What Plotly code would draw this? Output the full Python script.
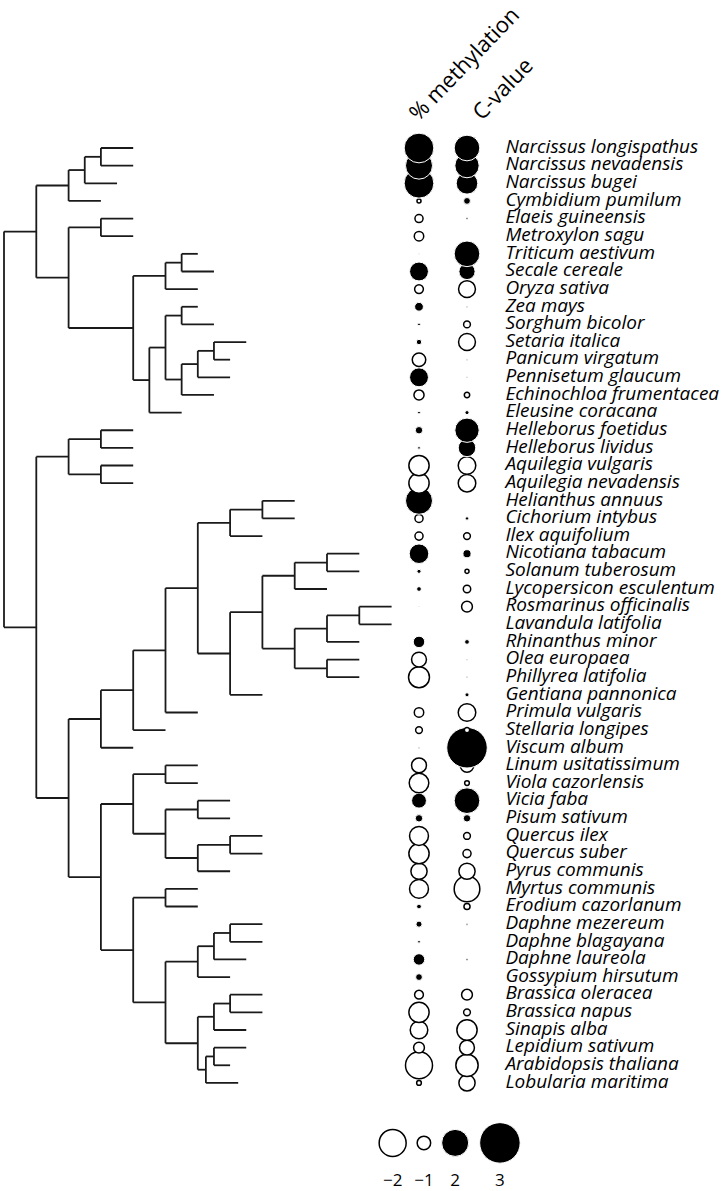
import plotly.graph_objects as go

species = [
    "Narcissus longispathus", "Narcissus nevadensis", "Narcissus bugei", "Cymbidium pumilum",
    "Elaeis guineensis", "Metroxylon sagu", "Triticum aestivum", "Secale cereale",
    "Oryza sativa", "Zea mays", "Sorghum bicolor", "Setaria italica", "Panicum virgatum",
    "Pennisetum glaucum", "Echinochloa frumentacea", "Eleusine coracana",
    "Helleborus foetidus", "Helleborus lividus", "Aquilegia vulgaris", "Aquilegia nevadensis",
    "Helianthus annuus", "Cichorium intybus", "Ilex aquifolium", "Nicotiana tabacum",
    "Solanum tuberosum", "Lycopersicon esculentum", "Rosmarinus officinalis",
    "Lavandula latifolia", "Rhinanthus minor", "Olea europaea", "Phillyrea latifolia",
    "Gentiana pannonica", "Primula vulgaris", "Stellaria longipes", "Viscum album",
    "Linum usitatissimum", "Viola cazorlensis", "Vicia faba", "Pisum sativum",
    "Quercus ilex", "Quercus suber", "Pyrus communis", "Myrtus communis",
    "Erodium cazorlanum", "Daphne mezereum", "Daphne blagayana", "Daphne laureola",
    "Gossypium hirsutum", "Brassica oleracea", "Brassica napus", "Sinapis alba",
    "Lepidium sativum", "Arabidopsis thaliana", "Lobularia maritima",
]

# standardised values (circle size = |value|, filled = positive, open = negative)
methylation = [
    2.2, 2.0, 2.2, -0.3, -0.6, -0.7, 0.05, 1.4, -0.65, 0.65, 0.2, 0.4, -1.0, 1.4, -0.75, 0.2,
    0.55, 0.2, -1.5, -1.5, 2.0, -0.6, -0.6, 1.45, 0.3, 0.35, 0.05, 0.0, 0.85, -1.1, -1.55,
    0.0, -0.7, -0.5, 0.1, -1.1, -1.45, 1.1, 0.55, -1.4, -1.5, -1.2, -1.4, 0.35, 0.45, 0.2,
    0.85, 0.5, -0.65, -1.5, -1.3, -0.8, -2.0, -0.35,
]
c_value = [
    1.9, 1.8, 1.6, 0.5, 0.15, 0.0, 1.9, 1.2, -1.25, 0.1, -0.5, -1.25, 0.1, 0.1, -0.4, 0.3,
    1.8, 1.3, -1.3, -1.3, 0.0, 0.25, -0.5, 0.6, -0.3, -0.55, -0.8, 0.0, 0.35, 0.1, 0.1,
    0.3, -1.3, -0.4, 3.0, -1.0, -0.35, 1.9, 0.55, -0.5, -0.6, -1.2, -1.9, -0.45, 0.15, 0.0,
    0.15, 0.0, -0.8, -0.5, -1.5, -1.1, -1.65, -1.2,
]

# tree: internal node = [depth, child, child, ...]; leaf = species index
tip_depth = [
    8, 8, 7, 6, 8, 8, 12, 13, 12, 12, 13, 15, 14, 14, 13, 11,
    8, 8, 8, 8,
    18, 18, 16, 22, 22, 20, 24, 24, 22, 22, 22, 16, 12, 10, 8,
    12, 12, 14, 14, 16, 16, 14, 12, 12, 16, 16, 15, 14, 16, 16, 15, 15, 14, 14.5,
]
tree = [0,
        [2,
         [4, [5, [6, 0, 1], 2], 3],
         [4, [6, 4, 5],
          [8, [10, [11, 6, 7], 8],
           [9, [10, [11, 9, 10], [11, [12, [13, 11, 12], 13], 14]], 15]]]],
        [2,
         [4, [6, 16, 17], [6, 18, 19]],
         [4,
          [6, [8, [10, [12, [14, [16, 20, 21], 22],
                        [14, [16, [18, [20, 23, 24], 25],
                              [18, [20, [22, 26, 27], 28], [20, 29, 30]]],
                         31]],
                   32],
               33],
           34],
          [6, [8, [10, 35, 36], [10, [12, 37, 38], [12, [14, 39, 40], 41]]],
           [8, [10, 42, 43],
            [10, [12, [13, [14, 44, 45], 46], 47],
             [12, [13, [14, 48, 49], 50], [12.5, [13, 51, 52], 53]]]]]]]]

columns = ["% methylation", "C-value"]
legend_values = [-2, -1, 2, 3]
legend_labels = ["\u22122", "\u22121", "2", "3"]

PX = 13.5          # circle diameter (px) per unit
COL_PX = 48        # px between the two circle columns
LABEL_FONT = "Open Sans"

# tree segments
tx, ty = [], []


def walk(node):
    if isinstance(node, int):
        return tip_depth[node], node
    depth = node[0]
    kids = [walk(c) for c in node[1:]]
    for kd, ky in kids:
        tx.extend([depth, kd, None])
        ty.extend([ky, ky, None])
    tx.extend([depth, depth, None])
    ty.extend([kids[0][1], kids[-1][1], None])
    return depth, (kids[0][1] + kids[-1][1]) / 2


walk(tree)

fig = go.Figure()
fig.add_trace(go.Scatter(x=tx, y=ty, mode="lines", line=dict(color="#1a1a1a", width=1.8),
                         hoverinfo="skip", showlegend=False))


def bubble_style(vals):
    return dict(
        size=[PX * abs(v) for v in vals],
        opacity=1,
        color=["black" if v > 0 else "white" for v in vals],
        line=dict(color=["white" if v > 0 else "black" for v in vals],
                  width=[1 if v > 0 else 1.5 for v in vals]),
    )


order = list(range(len(species)))[::-1]
for ci, vals in enumerate([methylation, c_value]):
    vv = [vals[i] for i in order]
    fig.add_trace(go.Scatter(
        x=[ci] * len(vv), y=order, mode="markers", xaxis="x2",
        marker=bubble_style(vv), showlegend=False,
        text=[species[i] for i in order], hovertemplate="%{text}<extra></extra>"))

fig.add_trace(go.Scatter(
    x=[1.8] * len(species), y=list(range(len(species))), mode="text", xaxis="x2",
    text=["<i>%s</i>" % s for s in species], textposition="middle right",
    textfont=dict(family=LABEL_FONT, size=19, color="black"),
    hoverinfo="skip", showlegend=False))

# legend circles placed edge to edge with a small gap
lx, left = [], -0.83
for v in legend_values:
    d = PX * abs(v) / COL_PX
    lx.append(left + d / 2)
    left += d + 11 / COL_PX
fig.add_trace(go.Scatter(x=lx, y=[56.4] * len(lx), mode="markers", xaxis="x2",
                         marker=bubble_style(legend_values), hoverinfo="skip", showlegend=False))
fig.add_trace(go.Scatter(x=lx, y=[58.6] * len(lx), mode="text", xaxis="x2",
                         text=legend_labels, textfont=dict(family=LABEL_FONT, size=17, color="black"),
                         hoverinfo="skip", showlegend=False))

for ci, (name, dx, dy) in enumerate(zip(columns, [0.92, 0.72], [-4.8, -3.4])):
    fig.add_annotation(x=ci + dx, y=dy, xref="x2", yref="y", text=name, showarrow=False,
                       textangle=-46, font=dict(family=LABEL_FONT, size=22, color="black"),
                       xanchor="center", yanchor="middle")

fig.update_layout(
    width=727, height=1191, margin=dict(l=0, r=0, t=0, b=0),
    plot_bgcolor="white", paper_bgcolor="white",
    xaxis=dict(range=[-4 / 16.15, 723 / 16.15], visible=False),
    xaxis2=dict(range=[-419 / COL_PX, 308 / COL_PX], overlaying="x", visible=False),
    yaxis=dict(range=[1043 / 17.64, -148 / 17.64], visible=False),
)
fig.write_html("out.html", config={"displayModeBar": False},
               post_script="document.body.style.margin = '0';")
